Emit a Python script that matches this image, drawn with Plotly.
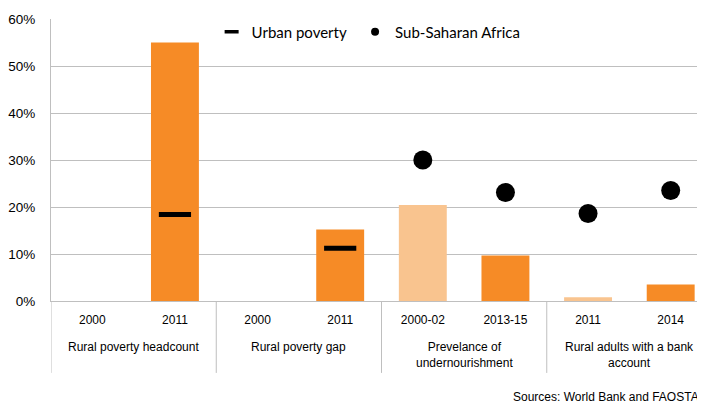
import plotly.graph_objects as go

# categories
group_names = [
    "Rural poverty headcount",
    "Rural poverty gap",
    "Prevelance of<br>undernourishment",
    "Rural adults with a bank<br>account",
]
group_of_bar = [0, 0, 1, 1, 2, 2, 3, 3]
years = ["2000", "2011", "2000", "2011", "2000-02", "2013-15", "2011", "2014"]

# series values (%)
rural_values = [None, 55.0, None, 15.2, 20.4, 9.7, 0.8, 3.5]
urban_poverty = [None, 18.4, None, 11.2, None, None, None, None]
sub_saharan_africa = [None, None, None, None, 30.0, 23.1, 18.6, 23.5]
is_baseline = [False, False, False, False, True, False, True, False]

ORANGE = "#F68B26"
LIGHT_ORANGE = "#F9C48F"
GRID = "#BFBFBF"

x = list(range(len(years)))
bar_colors = [LIGHT_ORANGE if b else ORANGE for b in is_baseline]

fig = go.Figure()

fig.add_trace(go.Bar(
    x=x,
    y=rural_values,
    marker=dict(color=bar_colors, line=dict(width=0)),
    showlegend=False,
    hoverinfo="skip",
))

fig.add_trace(go.Scatter(
    x=x,
    y=urban_poverty,
    mode="markers",
    marker=dict(symbol="line-ew", size=23, line=dict(width=5, color="black")),
    showlegend=False,
))

fig.add_trace(go.Scatter(
    x=x,
    y=sub_saharan_africa,
    mode="markers",
    marker=dict(symbol="circle", size=19, color="black"),
    showlegend=False,
))

# small legend entries like the original
fig.add_trace(go.Scatter(
    x=[None], y=[None], mode="markers", name="Urban poverty", legend="legend",
    marker=dict(symbol="line-ew", size=10, line=dict(width=3.5, color="black")),
))
fig.add_trace(go.Scatter(
    x=[None], y=[None], mode="markers", name="Sub-Saharan Africa", legend="legend2",
    marker=dict(symbol="circle", size=8, color="black"),
))

# group labels and dividers under the axis
annotations = []
shapes = []
for g, name in enumerate(group_names):
    idx = [i for i, gg in enumerate(group_of_bar) if gg == g]
    center = sum(idx) / len(idx)
    annotations.append(dict(
        text=name, x=center, xref="x", y=0, yref="paper",
        yshift=-37, yanchor="top", xanchor="center",
        showarrow=False, align="center",
        font=dict(size=12),
    ))
    shapes.append(dict(
        type="line", xref="x", yref="paper",
        x0=min(idx) - 0.5, x1=min(idx) - 0.5, y0=0, y1=-0.255,
        line=dict(color=GRID, width=1),
    ))

annotations.append(dict(
    text="Sources: World Bank and FAOSTA",
    xref="paper", yref="paper",
    x=0.983, y=0, yshift=-96,
    xanchor="right", yanchor="middle",
    showarrow=False,
    font=dict(size=12),
))

legend_style = dict(
    orientation="h",
    xanchor="left", yanchor="top",
    bgcolor="rgba(0,0,0,0)",
    font=dict(family="Lato, sans-serif", size=15),
    itemsizing="trace",
)

# the page body adds an 8px offset, margins compensate for it
fig.update_layout(
    width=705,
    height=405,
    margin=dict(l=43, r=1, t=11, b=112),
    plot_bgcolor="white",
    paper_bgcolor="white",
    bargap=0.42,
    font=dict(family="Liberation Sans, Arial, sans-serif", size=12, color="black"),
    legend=dict(x=0.243, y=1.012, **legend_style),
    legend2=dict(x=0.46, y=1.012, **legend_style),
    annotations=annotations,
    shapes=shapes,
)

fig.update_xaxes(
    range=[-0.5, 7.5],
    tickmode="array",
    tickvals=x,
    ticktext=years,
    showline=True,
    linecolor=GRID,
    linewidth=1,
    showgrid=False,
    zeroline=False,
    ticks="",
    ticklabelstandoff=8,
    tickfont=dict(size=12),
    automargin=False,
)

fig.update_yaxes(
    range=[0, 60],
    dtick=10,
    ticksuffix="%",
    showgrid=True,
    gridcolor=GRID,
    gridwidth=1,
    showline=True,
    linecolor=GRID,
    zeroline=False,
    tickfont=dict(size=13.5),
    ticklabelstandoff=12,
    automargin=False,
)

fig.write_html("out.html")
